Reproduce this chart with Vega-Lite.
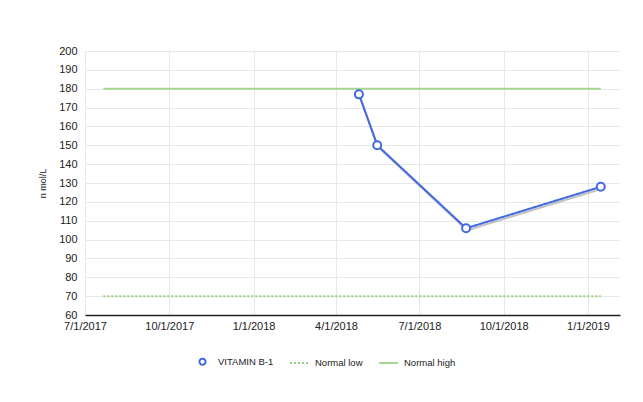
{
  "$schema": "https://vega.github.io/schema/vega-lite/v6.json",
  "width": 535,
  "height": 264,
  "autosize": {"type": "none"},
  "padding": {"left": 85, "top": 51, "right": 23, "bottom": 87},
  "background": "white",
  "config": {
    "view": {"stroke": null},
    "font": "Liberation Sans",
    "axis": {"labelFont": "Liberation Sans", "labelFontSize": 11, "labelColor": "#222222", "gridColor": "#e8e8e8", "ticks": false},
    "legend": {
      "orient": "none",
      "legendX": 107,
      "legendY": 300,
      "direction": "horizontal",
      "title": null,
      "labelFontSize": 9.5,
      "labelColor": "#1a1a1a",
      "labelOffset": 5,
      "columnPadding": 12,
      "symbolSize": 361,
      "symbolStrokeWidth": 2
    }
  },
  "data": {
    "values": [
      {"series": "VITAMIN B-1", "date": "2018-04-26", "value": 177},
      {"series": "VITAMIN B-1", "date": "2018-05-16", "value": 150},
      {"series": "VITAMIN B-1", "date": "2018-08-21", "value": 106},
      {"series": "VITAMIN B-1", "date": "2019-01-15", "value": 128},
      {"series": "Normal low", "date": "2017-07-21", "value": 70},
      {"series": "Normal low", "date": "2019-01-15", "value": 70},
      {"series": "Normal high", "date": "2017-07-21", "value": 180},
      {"series": "Normal high", "date": "2019-01-15", "value": 180}
    ]
  },
  "encoding": {
    "x": {
      "field": "date",
      "type": "temporal",
      "scale": {
        "type": "utc",
        "domain": [
          {"year": 2017, "month": 7, "date": 1, "utc": true},
          {"year": 2019, "month": 2, "date": 5, "utc": true}
        ]
      },
      "axis": {
        "title": null,
        "labelExpr": "utcFormat(datum.value, '%-m/%-d/%Y')",
        "labelPadding": 5,
        "labelFlush": false,
        "labelOverlap": false,
        "domainColor": "#222222",
        "domainWidth": 1.5,
        "values": [
          {"year": 2017, "month": 7, "date": 1, "utc": true},
          {"year": 2017, "month": 10, "date": 1, "utc": true},
          {"year": 2018, "month": 1, "date": 1, "utc": true},
          {"year": 2018, "month": 4, "date": 1, "utc": true},
          {"year": 2018, "month": 7, "date": 1, "utc": true},
          {"year": 2018, "month": 10, "date": 1, "utc": true},
          {"year": 2019, "month": 1, "date": 1, "utc": true}
        ]
      }
    },
    "y": {
      "field": "value",
      "type": "quantitative",
      "scale": {"domain": [60, 200], "nice": false, "zero": false},
      "axis": {
        "title": "n mol/L",
        "titleFontSize": 9,
        "titleFontWeight": "normal",
        "titleColor": "#222222",
        "titlePadding": 11,
        "labelPadding": 8,
        "domain": false,
        "values": [60, 70, 80, 90, 100, 110, 120, 130, 140, 150, 160, 170, 180, 190, 200]
      }
    }
  },
  "layer": [
    {
      "transform": [{"filter": "datum.series === 'VITAMIN B-1'"}],
      "mark": {"type": "line", "color": "#9a9a9a", "opacity": 0.6, "strokeWidth": 2, "xOffset": 1, "yOffset": 2},
      "encoding": {}
    },
    {
      "mark": {"type": "line", "strokeWidth": 2},
      "encoding": {
        "color": {
          "field": "series",
          "type": "nominal",
          "scale": {"domain": ["VITAMIN B-1", "Normal low", "Normal high"], "range": ["#4169e1", "#97d27a", "#a3d88c"]}
        },
        "strokeDash": {
          "field": "series",
          "type": "nominal",
          "scale": {"domain": ["VITAMIN B-1", "Normal low", "Normal high"], "range": [[1, 0], [2, 2], [1, 0]]}
        }
      }
    },
    {
      "transform": [{"filter": "datum.series === 'VITAMIN B-1'"}],
      "mark": {"type": "point", "filled": false, "fill": "white", "fillOpacity": 1, "strokeWidth": 2, "size": 625, "opacity": 1},
      "encoding": {
        "color": {
          "field": "series",
          "type": "nominal",
          "scale": {"domain": ["VITAMIN B-1", "Normal low", "Normal high"], "range": ["#4169e1", "#97d27a", "#a3d88c"]}
        },
        "shape": {
          "field": "series",
          "type": "nominal",
          "scale": {
            "domain": ["VITAMIN B-1", "Normal low", "Normal high"],
            "range": [
              "M -0.32 0 A 0.32 0.32 0 1 1 0.32 0 A 0.32 0.32 0 1 1 -0.32 0 Z",
              "M -1 0 L 1 0",
              "M -1 0 L 1 0"
            ]
          }
        }
      }
    }
  ]
}
